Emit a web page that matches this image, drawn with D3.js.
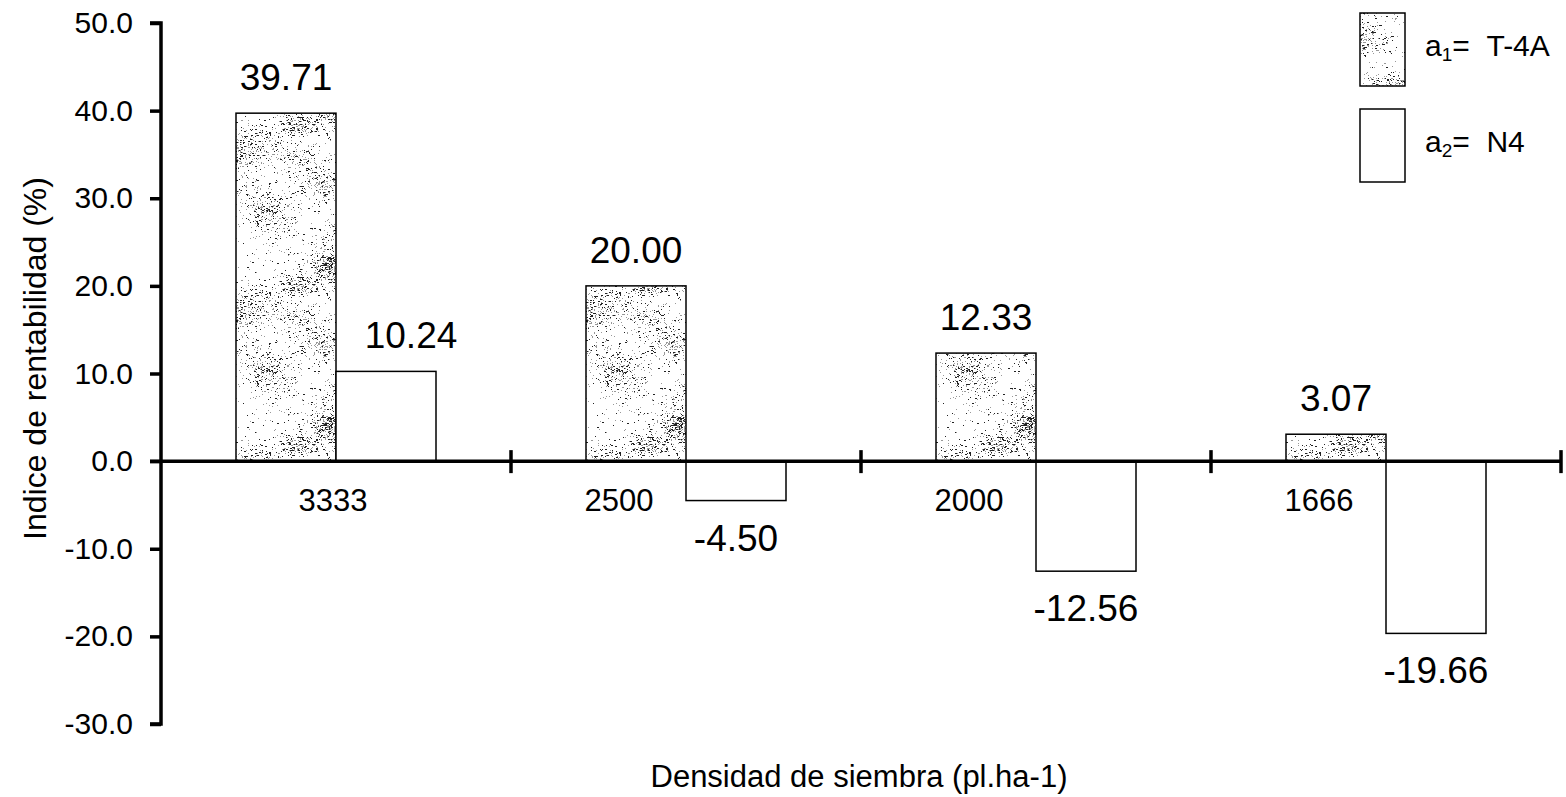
<!DOCTYPE html>
<html>
<head>
<meta charset="utf-8">
<script src="https://cdn.jsdelivr.net/npm/d3@7"></script>
<style>
  html, body { margin: 0; padding: 0; background: #fff; }
  svg { display: block; font-family: Arial, "Liberation Sans", Helvetica, sans-serif; }
</style>
</head>
<body>
<svg id="chart" width="1566" height="797"></svg>
<script>
// ---- data ----
const categories = ["3333", "2500", "2000", "1666"];
const seriesNames = ["a1", "a2"];
const seriesLabels = [["a", "1", "=\u00a0\u00a0T-4A"], ["a", "2", "=\u00a0\u00a0N4"]];
const valuesA1 = [39.71, 20.00, 12.33, 3.07];
const valuesA2 = [10.24, -4.50, -12.56, -19.66];
const yTicks = [-30, -20, -10, 0, 10, 20, 30, 40, 50];
const yTitle = "Indice de rentabilidad (%)";
const xTitle = "Densidad de siembra (pl.ha-1)";

const svg = d3.select("#chart");

// ---- scales ----
const x0 = d3.scaleBand().domain(categories).range([161, 1561]).paddingInner(0).paddingOuter(0);
const x1 = d3.scaleBand().domain(seriesNames).range([0, x0.bandwidth()]).paddingInner(0).paddingOuter(0.75);
const y = d3.scaleLinear().domain([-30, 50]).range([724, 23]);

// ---- stipple pattern (deterministic) ----
let seed = 987654;
function rnd() { seed = (seed * 1103515245 + 12345) % 2147483648; return seed / 2147483648; }
function gauss() { return (rnd() + rnd() + rnd() + rnd() - 2) / 2; }
const defs = svg.append("defs");
const tile = 160;
const pat = defs.append("pattern").attr("id", "stipple").attr("patternUnits", "userSpaceOnUse")
  .attr("width", tile).attr("height", tile);
pat.append("rect").attr("width", tile).attr("height", tile).attr("fill", "#fff");
const dots = [];
for (let c = 0; c < 16; c++) {
  const cx = rnd() * tile, cy = rnd() * tile, sx = 12 + rnd() * 18, sy = 8 + rnd() * 16, n = 90 + Math.floor(rnd() * 110);
  for (let k = 0; k < n; k++) {
    dots.push([(cx + gauss() * sx * 2 + 2 * tile) % tile, (cy + gauss() * sy * 2 + 2 * tile) % tile, rnd()]);
  }
}
for (let k = 0; k < 650; k++) dots.push([rnd() * tile, rnd() * tile, rnd()]);
pat.selectAll("rect.d").data(dots).join("rect").attr("class", "d")
  .attr("x", d => Math.floor(d[0])).attr("y", d => Math.floor(d[1]))
  .attr("width", d => d[2] > 0.88 ? 2 : 1).attr("height", 1)
  .attr("fill", d => d[2] > 0.6 ? "#222" : "#999");

const fills = { a1: "url(#stipple)", a2: "#fff" };

// ---- bars ----
const rows = categories.map((c, i) => ({ cat: c, vals: [{ s: "a1", v: valuesA1[i] }, { s: "a2", v: valuesA2[i] }] }));
const g = svg.append("g");
const grp = g.selectAll("g.cat").data(rows).join("g").attr("class", "cat")
  .attr("transform", d => `translate(${x0(d.cat)},0)`);
grp.selectAll("rect").data(d => d.vals).join("rect")
  .attr("x", d => x1(d.s))
  .attr("width", x1.bandwidth())
  .attr("y", d => y(Math.max(0, d.v)))
  .attr("height", d => Math.abs(y(d.v) - y(0)))
  .attr("fill", d => fills[d.s])
  .attr("stroke", "#000").attr("stroke-width", 1.5);

// value labels
grp.selectAll("text.val").data(d => d.vals).join("text").attr("class", "val")
  .attr("x", d => x1(d.s) + x1.bandwidth() / 2 + (d.s === "a2" && d.v > 0 ? 25 : 0))
  .attr("y", d => d.v >= 0 ? y(d.v) - 23 : y(d.v) + 50)
  .attr("text-anchor", "middle").attr("font-size", 37).attr("fill", "#000")
  .text(d => d.v.toFixed(2));

// ---- y axis ----
const yAxis = d3.axisLeft(y).tickValues(yTicks).tickSize(11).tickPadding(17).tickFormat(d => d.toFixed(1));
const ya = svg.append("g").attr("transform", "translate(161,0)").call(yAxis);
ya.select(".domain").attr("stroke", "#000").attr("stroke-width", 3.5).attr("d", `M-11,${y(50)}H0V${y(-30)}H-11`);
ya.selectAll(".tick line").attr("stroke-width", 3.5);
ya.selectAll(".tick text").attr("font-size", 30).attr("font-family", "Arial, 'Liberation Sans', sans-serif").attr("fill", "#000");

// ---- x axis (zero line) ----
const xa = svg.append("g");
xa.append("line").attr("x1", 150).attr("x2", x0.range()[1]).attr("y1", y(0)).attr("y2", y(0))
  .attr("stroke", "#000").attr("stroke-width", 3.5);
xa.selectAll("line.tk").data(categories).join("line").attr("class", "tk")
  .attr("x1", d => x0(d) + x0.bandwidth()).attr("x2", d => x0(d) + x0.bandwidth())
  .attr("y1", y(0) - 11).attr("y2", y(0) + 12)
  .attr("stroke", "#000").attr("stroke-width", 3.5);
xa.selectAll("text.cat").data(rows).join("text").attr("class", "cat")
  .attr("x", d => d.vals[1].v >= 0 ? x0(d.cat) + x0.bandwidth() / 2 - 3
                                    : x0(d.cat) + x1("a1") + x1.bandwidth() / 2 - 17)
  .attr("y", y(0) + 50)
  .attr("text-anchor", "middle").attr("font-size", 31).attr("fill", "#000")
  .text(d => d.cat);

// ---- titles ----
svg.append("text").attr("transform", `translate(46,${(y(50) + y(-30)) / 2 - 15}) rotate(-90)`)
  .attr("text-anchor", "middle").attr("font-size", 32).attr("fill", "#000").text(yTitle);
svg.append("text").attr("x", 859).attr("y", 787)
  .attr("text-anchor", "middle").attr("font-size", 31).attr("fill", "#000").text(xTitle);

// ---- legend ----
const lg = svg.append("g").selectAll("g").data(seriesNames).join("g")
  .attr("transform", (d, i) => `translate(1360,${13 + i * 96})`);
lg.append("rect").attr("width", 45).attr("height", 73)
  .attr("fill", d => fills[d]).attr("stroke", "#000").attr("stroke-width", 1.5);
const lt = lg.append("text").attr("x", 65).attr("y", 43).attr("font-size", 30).attr("fill", "#000");
lt.append("tspan").text((d, i) => seriesLabels[i][0]);
lt.append("tspan").attr("font-size", 19).attr("dy", 5).text((d, i) => seriesLabels[i][1]);
lt.append("tspan").attr("dy", -5).text((d, i) => seriesLabels[i][2]);
</script>
</body>
</html>
